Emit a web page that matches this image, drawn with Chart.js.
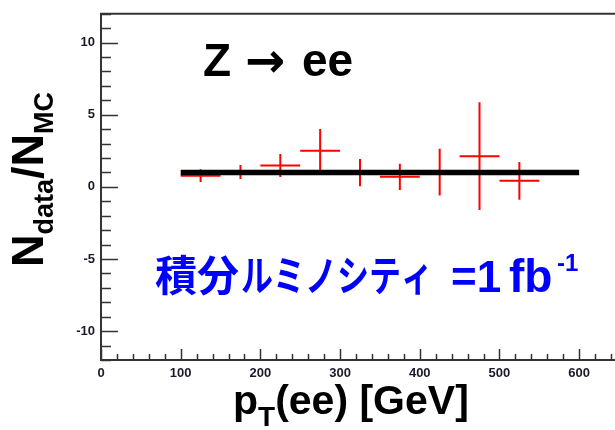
<!DOCTYPE html>
<html>
<head>
<meta charset="utf-8">
<script src="https://cdn.jsdelivr.net/npm/chart.js@4.4.1/dist/chart.umd.min.js"></script>
<style>
  html, body { margin:0; padding:0; background:#fff; overflow:hidden; }
  #wrap { width:615px; height:430px; }
</style>
</head>
<body>
<div id="wrap"><canvas id="c" width="615" height="430"></canvas></div>
<script>
// ---- data ----
const xTickValues = [0, 100, 200, 300, 400, 500, 600];
const yTickValues = [-10, -5, 0, 5, 10];
const binCenter    = [125, 175, 225, 275, 325, 375, 425, 475, 525];
const binHalfWidth = [25, 25, 25, 25, 25, 25, 25, 25, 25];
const ratio        = [0.78, 1.03, 1.48, 2.50, 0.99, 0.70, 1.03, 2.13, 0.42];
const ratioErr     = [0.44, 0.49, 0.80, 1.51, 0.94, 0.91, 1.62, 3.74, 1.31];
const mcX = [100, 600];
const mcY = [1, 1];
const xMinorStep = 20;
const yMinorStep = 1;

const FONT = "'Liberation Sans', Arial, Helvetica, sans-serif";
const CJK = "'Noto Sans CJK JP', 'Noto Sans CJK SC', sans-serif";

const decor = {
  id: 'decor',
  beforeDatasetsDraw(chart) {
    const { ctx, scales: { x, y } } = chart;
    ctx.save();
    ctx.strokeStyle = '#ff0000';
    ctx.lineWidth = 2;
    binCenter.forEach((c, i) => {
      const px = x.getPixelForValue(c);
      const py = y.getPixelForValue(ratio[i]);
      ctx.beginPath();
      ctx.moveTo(x.getPixelForValue(c - binHalfWidth[i]), py);
      ctx.lineTo(x.getPixelForValue(c + binHalfWidth[i]), py);
      ctx.moveTo(px, y.getPixelForValue(ratio[i] - ratioErr[i]));
      ctx.lineTo(px, y.getPixelForValue(ratio[i] + ratioErr[i]));
      ctx.stroke();
    });
    ctx.restore();
  },
  afterDraw(chart) {
    const { ctx, chartArea: a, scales: { x, y } } = chart;
    ctx.save();
    // frame
    ctx.strokeStyle = '#333';
    ctx.lineWidth = 2;
    ctx.beginPath();
    ctx.moveTo(a.right, a.top); ctx.lineTo(a.left, a.top);
    ctx.lineTo(a.left, a.bottom); ctx.lineTo(a.right, a.bottom);
    ctx.stroke();
    // ticks (inside)
    ctx.lineWidth = 1.5;
    ctx.beginPath();
    for (let v = x.min; v <= x.max; v += xMinorStep) {
      const px = Math.round(x.getPixelForValue(v)) + 0.5;
      const len = xTickValues.includes(v) ? 11 : 6;
      ctx.moveTo(px, a.bottom); ctx.lineTo(px, a.bottom - len);
    }
    for (let v = y.min; v <= y.max; v += yMinorStep) {
      const py = Math.round(y.getPixelForValue(v)) + 0.5;
      const len = yTickValues.includes(v) ? 17 : 10;
      ctx.moveTo(a.left, py); ctx.lineTo(a.left + len, py);
    }
    ctx.stroke();

    ctx.textAlign = 'left';
    ctx.textBaseline = 'alphabetic';
    ctx.fillStyle = '#000';

    // title Z -> ee
    ctx.font = "bold 46px " + FONT;
    ctx.fillText('Z', 203, 76);
    ctx.fillText('ee', 302, 76);
    ctx.font = "bold 48px 'DejaVu Sans', sans-serif";
    ctx.fillText('\u2192', 245, 77);

    // x title
    let cx = 233;
    ctx.font = "bold 41px " + FONT;
    ctx.fillText('p', cx, 414); cx += ctx.measureText('p').width;
    ctx.font = "bold 28px " + FONT;
    ctx.fillText('T', cx, 426); cx += ctx.measureText('T').width;
    ctx.font = "bold 41px " + FONT;
    ctx.fillText('(ee) [GeV]', cx, 414);

    // y title (rotated)
    ctx.save();
    ctx.translate(43, 267);
    ctx.rotate(-Math.PI / 2);
    let ty = 0;
    const parts = [['N', 45, 0], ['data', 27, 10], ['/N', 45, 0], ['MC', 27, 10]];
    parts.forEach(([t, s, off]) => {
      ctx.font = "bold " + s + "px " + FONT;
      ctx.fillText(t, ty, off);
      ty += ctx.measureText(t).width;
    });
    ctx.restore();

    // luminosity text
    ctx.fillStyle = '#0000ff';
    ctx.font = "bold 42px " + CJK;
    ctx.fillText('積分', 155, 291);
    const kana = 'ルミノシティ';
    const kw = ctx.measureText(kana).width;
    ctx.save();
    ctx.translate(241, 291);
    ctx.scale(192 / kw, 1);
    ctx.fillText(kana, 0, 0);
    ctx.restore();
    ctx.font = "bold 44px " + FONT;
    ctx.fillText('=1', 451, 292);
    ctx.font = "bold 46px " + FONT;
    ctx.fillText('fb', 509, 292);
    ctx.font = "bold 24px " + FONT;
    ctx.fillText('-1', 557, 271);
    ctx.restore();
  }
};

new Chart(document.getElementById('c'), {
  type: 'scatter',
  data: {
    datasets: [
      {
        type: 'line',
        label: 'MC',
        data: mcX.map((v, i) => ({ x: v, y: mcY[i] })),
        borderColor: '#000',
        borderWidth: 5.5,
        pointRadius: 0,
        fill: false
      },
      {
        label: 'data',
        data: binCenter.map((v, i) => ({ x: v, y: ratio[i] })),
        pointRadius: 0,
        borderColor: '#ff0000',
        backgroundColor: '#ff0000'
      }
    ]
  },
  options: {
    responsive: false,
    animation: false,
    events: [],
    layout: { padding: { top: 9, left: 0, right: 0, bottom: 0 } },
    plugins: { legend: { display: false }, tooltip: { enabled: false } },
    scales: {
      x: {
        type: 'linear', min: 0, max: 645,
        grid: { display: false, drawTicks: false },
        border: { display: false },
        ticks: { color: '#1a1a2a', padding: 6, font: { family: FONT, weight: 'bold', size: 13 } },
        afterBuildTicks: s => { s.ticks = xTickValues.map(v => ({ value: v })); },
        afterFit: s => { s.height = 70; }
      },
      y: {
        type: 'linear', min: -12, max: 12,
        grid: { display: false, drawTicks: false },
        border: { display: false },
        ticks: { color: '#1a1a2a', padding: 6, font: { family: FONT, weight: 'bold', size: 13 } },
        afterBuildTicks: s => { s.ticks = yTickValues.map(v => ({ value: v })); },
        afterFit: s => { s.width = 101; }
      }
    }
  },
  plugins: [decor]
});
</script>
</body>
</html>
